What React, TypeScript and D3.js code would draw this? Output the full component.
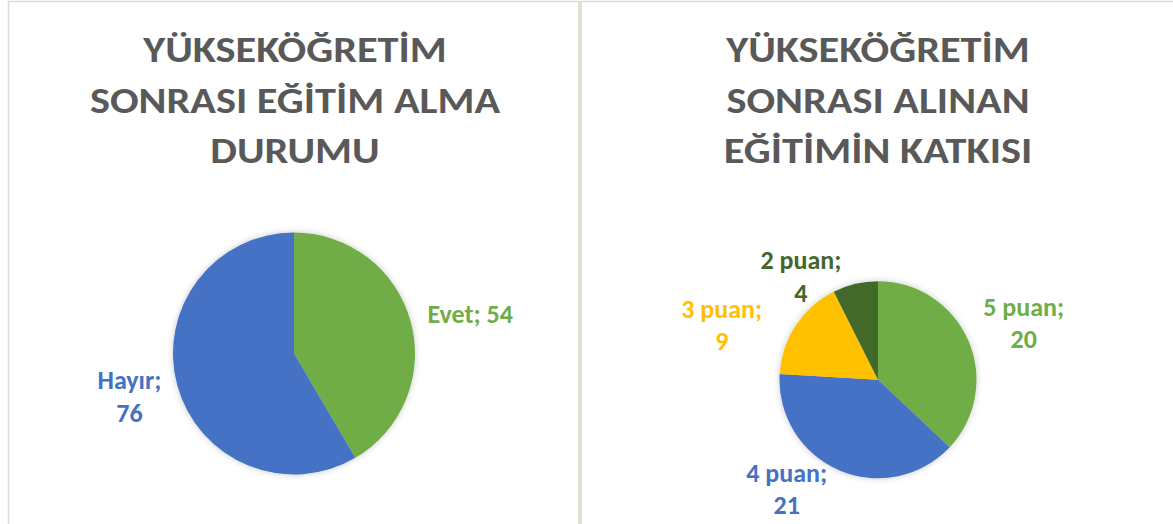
import React from "react";
import * as d3 from "d3";

// ---------- data ----------
const leftTitle = ["YÜKSEKÖĞRETİM", "SONRASI EĞİTİM ALMA", "DURUMU"];
const leftCategories = ["Evet", "Hayır"];
const leftValues = [54, 76];
const leftColors = ["#70AD47", "#4472C4"];

const rightTitle = ["YÜKSEKÖĞRETİM", "SONRASI ALINAN", "EĞİTİMİN KATKISI"];
const rightCategories = ["5 puan", "4 puan", "3 puan", "2 puan"];
const rightValues = [20, 21, 9, 4];
const rightColors = ["#70AD47", "#4472C4", "#FFC000", "#43682B"];

// label line breaks (Excel "best fit" wrapping)
const leftLabelWrap = [false, true];
const rightLabelWrap = [true, true, true, true];

// label nudges relative to the polar anchor (layout only)
const leftLabelShift: [number, number][] = [[1, 9], [10.6, -3.9]];
const rightLabelShift: [number, number][] = [[10, 2.6], [-32.8, -25.3], [-32.8, 27.2], [-43, 41.3]];

const W = 1173;
const H = 524;
const FONT = "Carlito, Calibri, 'Open Sans', sans-serif";
const TITLE_COLOR = "#595959";
const TITLE_SIZE = 36.5;
const TITLE_STRETCH = 1.16;
const LABEL_SIZE = 26;

type PieProps = {
  cx: number;
  cy: number;
  r: number;
  title: string[];
  titleX: number;
  categories: string[];
  values: number[];
  colors: string[];
  wrap: boolean[];
  shifts: [number, number][];
};

function PieChart({ cx, cy, r, title, titleX, categories, values, colors, wrap, shifts }: PieProps) {
  const pie = d3
    .pie<number>()
    .sort(null)
    .value((d) => d)
    .startAngle(0)
    .endAngle(2 * Math.PI);
  const arcs = pie(values);
  const arc = d3.arc<d3.PieArcDatum<number>>().innerRadius(0).outerRadius(r);
  const labelR = r * 1.5;
  const lineH = 32.3;
  const capH = 16.5;
  const titleBaselines = [62.3, 112.8, 163.3];

  return (
    <g>
      {title.map((t, i) => (
        <text
          key={i}
          transform={`translate(${titleX},${titleBaselines[i]}) scale(${TITLE_STRETCH},1)`}
          textAnchor="middle"
          fontFamily={FONT}
          fontWeight={700}
          fontSize={TITLE_SIZE}
          fill={TITLE_COLOR}
        >
          {t}
        </text>
      ))}
      <g transform={`translate(${cx},${cy})`} filter="url(#pieShadow)">
        {arcs.map((a, i) => (
          <path key={i} d={arc(a) || ""} fill={colors[i]} />
        ))}
      </g>
      {arcs.map((a, i) => {
        const mid = (a.startAngle + a.endAngle) / 2;
        const lx = cx + Math.sin(mid) * labelR + shifts[i][0];
        const ly = cy - Math.cos(mid) * labelR + shifts[i][1];
        const lines = wrap[i]
          ? [`${categories[i]};`, `${values[i]}`]
          : [`${categories[i]}; ${values[i]}`];
        const n = lines.length;
        return (
          <g key={i}>
            {lines.map((ln, j) => (
              <text
                key={j}
                x={lx}
                y={ly + capH / 2 + (j - (n - 1) / 2) * lineH}
                textAnchor="middle"
                fontFamily={FONT}
                fontWeight={700}
                fontSize={LABEL_SIZE}
                fill={colors[i]}
              >
                {ln}
              </text>
            ))}
          </g>
        );
      })}
    </g>
  );
}

export default function App() {
  return (
    <svg
      width={W}
      height={H}
      style={{ position: "absolute", left: 0, top: 0, background: "#ffffff" }}
    >
      <defs>
        <filter id="pieShadow" x="-20%" y="-20%" width="140%" height="140%">
          <feDropShadow dx="0" dy="0" stdDeviation="3" floodColor="#000" floodOpacity="0.22" />
        </filter>
      </defs>
      <rect x={0} y={0} width={W} height={H} fill="#ffffff" />
      {/* chart frames */}
      <line x1={8.5} y1={1.5} x2={8.5} y2={H} stroke="#d9d9d9" strokeWidth={1.5} />
      <line x1={8} y1={1.5} x2={W} y2={1.5} stroke="#d9d9d9" strokeWidth={1.5} />
      <rect x={578} y={1} width={4} height={H} fill="#e2e0cf" />

      <PieChart
        cx={294}
        cy={353.5}
        r={121}
        title={leftTitle}
        titleX={295}
        categories={leftCategories}
        values={leftValues}
        colors={leftColors}
        wrap={leftLabelWrap}
        shifts={leftLabelShift}
      />
      <PieChart
        cx={878}
        cy={379.7}
        r={98.5}
        title={rightTitle}
        titleX={878}
        categories={rightCategories}
        values={rightValues}
        colors={rightColors}
        wrap={rightLabelWrap}
        shifts={rightLabelShift}
      />
    </svg>
  );
}
